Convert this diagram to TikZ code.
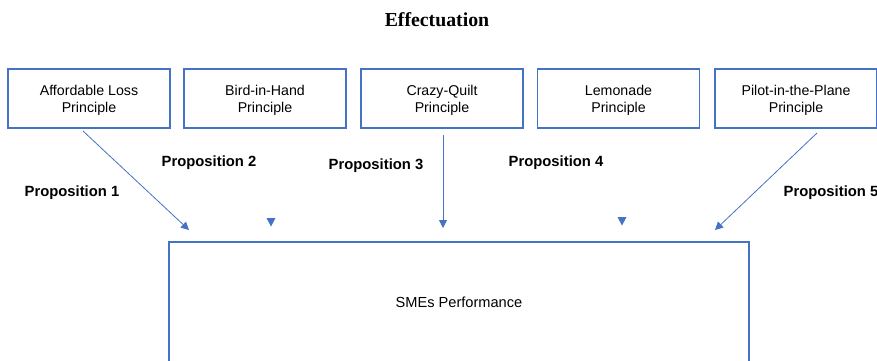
\documentclass[tikz,border=0pt]{standalone}
\usepackage{fontspec}
\setmainfont{Liberation Sans}
\newfontfamily\titlefont{Liberation Serif}
\usetikzlibrary{arrows.meta}
\definecolor{boxblue}{RGB}{68,114,196}
\newcommand{\tstrut}{\rule{0pt}{14pt}}
\begin{document}
\begin{tikzpicture}[x=1pt,y=-1pt,
  pbox/.style={draw=boxblue,line width=1.1pt,minimum width=162pt,minimum height=59pt,inner sep=0pt,align=center,font=\fontsize{14.2}{17}\selectfont},
  prop/.style={font=\fontsize{14.8}{16}\selectfont\bfseries,inner sep=0pt},
  arr/.style={draw=boxblue,line width=0.8pt,-{Triangle[length=8pt,width=8pt]}},
  headonly/.style={fill=boxblue}]
\useasboundingbox (0,0) rectangle (877,360);
\node[font=\titlefont\fontsize{19.8}{21}\selectfont\bfseries,inner sep=0pt] (title) at (437,20) {Effectuation};
\node[pbox] (b1) at (89,98.5) {\tstrut Affordable Loss\\Principle};
\node[pbox] (b2) at (265,98.5) {\tstrut Bird-in-Hand\\Principle};
\node[pbox] (b3) at (442,98.5) {\tstrut Crazy-Quilt\\Principle};
\node[pbox] (b4) at (618.5,98.5) {\tstrut Lemonade\\Principle};
\node[pbox] (b5) at (796,98.5) {\tstrut Pilot-in-the-Plane\\Principle};
\draw[boxblue,line width=1.1pt] (169,242) rectangle (749,370);
\node[font=\fontsize{14.6}{16}\selectfont,inner sep=0pt] (sme) at (459,302) {SMEs Performance};
\coordinate (s1) at (83,131);
\coordinate (e1) at (189,230);
\coordinate (s3) at (443,135);
\coordinate (e3) at (443,228);
\coordinate (s5) at (817,133);
\coordinate (e5) at (715,230);
\coordinate (h2) at (271,226.5);
\coordinate (h4) at (622,225.5);
\draw[arr] (s1) -- (e1);
\fill[headonly] ([shift={(-4.5,-8.5)}]h2) -- ([shift={(4.5,-8.5)}]h2) -- (h2) -- cycle;
\fill[headonly] ([shift={(-4.5,-8.5)}]h4) -- ([shift={(4.5,-8.5)}]h4) -- (h4) -- cycle;
\draw[arr] (s3) -- (e3);
\draw[arr] (s5) -- (e5);
\node[prop] (p1) at (72,193) {Proposition 1};
\node[prop] (p2) at (209,163) {Proposition 2};
\node[prop] (p3) at (376,166) {Proposition 3};
\node[prop] (p4) at (556,163) {Proposition 4};
\node[prop] (p5) at (831,193) {Proposition 5};
\end{tikzpicture}
\end{document}
